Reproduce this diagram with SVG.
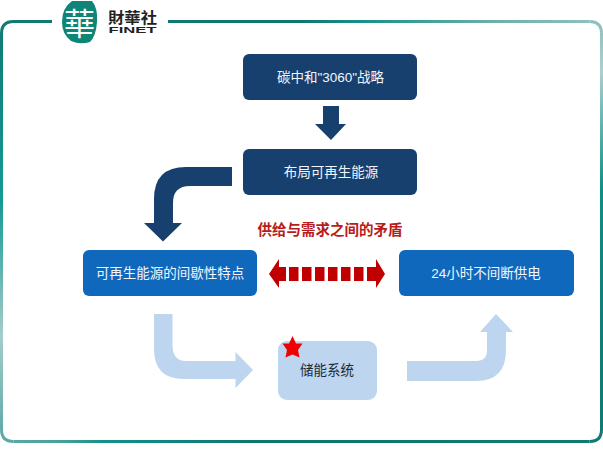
<svg xmlns="http://www.w3.org/2000/svg" width="603" height="463" viewBox="0 0 603 463">
<defs>
<linearGradient id="gt" gradientUnits="userSpaceOnUse" x1="52" y1="0" x2="590" y2="0"><stop offset="0" stop-color="#0f7a74"/><stop offset=".46" stop-color="#0f7672"/><stop offset=".58" stop-color="#1a908a"/><stop offset=".83" stop-color="#6fb0ac"/><stop offset="1" stop-color="#8cc0bd"/></linearGradient>
<linearGradient id="gr" gradientUnits="userSpaceOnUse" x1="0" y1="21" x2="0" y2="441"><stop offset="0" stop-color="#8cc0bd"/><stop offset=".12" stop-color="#a9d0cf"/><stop offset=".4" stop-color="#0e8f88"/><stop offset=".66" stop-color="#117f7c"/><stop offset="1" stop-color="#0f7a74"/></linearGradient>
<linearGradient id="gb" gradientUnits="userSpaceOnUse" x1="0" y1="0" x2="603" y2="0"><stop offset=".02" stop-color="#5aa8a6"/><stop offset=".1" stop-color="#4aa09c"/><stop offset=".17" stop-color="#14908a"/><stop offset=".42" stop-color="#0f7672"/><stop offset="1" stop-color="#0f7a74"/></linearGradient>
<linearGradient id="gl" gradientUnits="userSpaceOnUse" x1="0" y1="21" x2="0" y2="441"><stop offset="0" stop-color="#0f7a74"/><stop offset=".43" stop-color="#159a92"/><stop offset=".75" stop-color="#a5cccc"/><stop offset="1" stop-color="#5aa8a6"/></linearGradient>
</defs>
<style>
.cn{font-family:"Liberation Sans","Noto Sans CJK SC",sans-serif;text-anchor:middle}
.w{fill:#f2f6fa;font-size:13.500px}
.dark{fill:#17406f}.blue{fill:#1068bd}.light{fill:#bdd5ef}
.fr{fill:none;stroke-width:3}
</style>
<rect width="603" height="463" fill="#fff"/>
<g id="frame">
<path class="fr" stroke="url(#gt)" d="M168 21.500H589.500"/>
<path class="fr" stroke="url(#gr)" d="M589.500 21.500Q601.500 21.500 601.500 33.500V429.500Q601.500 441.500 589.500 441.500"/>
<path class="fr" stroke="url(#gb)" d="M589.500 441.500H13.500"/>
<path class="fr" stroke="url(#gl)" d="M13.500 441.500Q1.500 441.500 1.500 429.500V33.500Q1.500 21.500 13.500 21.500H52"/>
</g>
<g id="logo">
<path d="M72 1H92Q98 8 97 22Q96 36 90 42Q80 45 71 41Q62 34 62 22Q62 8 72 1Z" fill="#0e8577"/>
<text x="79.500" y="35" font-size="31" fill="#fff" text-anchor="middle" font-family="'Noto Sans CJK TC',sans-serif">華</text>
<text x="132.500" y="23" font-size="15" font-weight="bold" fill="#222" text-anchor="middle" textLength="49" lengthAdjust="spacingAndGlyphs" font-family="'Noto Sans CJK TC',sans-serif">財華社</text>
<text x="132.500" y="33" font-size="9.500" font-weight="bold" fill="#222" text-anchor="middle" textLength="48" lengthAdjust="spacingAndGlyphs" font-family="'Liberation Sans',sans-serif">FINET</text>
</g>
<g id="connectors">
<path class="dark" d="M323 106H339V124H346L331 140L315 124H323Z"/>
<path class="dark" d="M232 167H186Q154 167 154 199V223H144L163 241.500L182 223H173V203Q173 186 190 186H232Z"/>
<path fill="#c00000" d="M269 274L279 259V267H286V281H279V288ZM289 267H298.500V281H289ZM302 267H311.500V281H302ZM315 267H324.500V281H315ZM328 267H337.500V281H328ZM341 267H350.500V281H341ZM354 267H363.500V281H354ZM367 267H376V259L385 274L376 288V281H367Z"/>
<path class="light" d="M154 314H172.500V345Q172.500 361 186 361H235.500V352L253 370L235.500 388V379H184Q154 379 154 349Z"/>
<path class="light" d="M407 361H476Q487 361 487 350V332H480L496 314L513 332H506V350Q506 381 476 381H407Z"/>
</g>
<g id="node-carbon"><rect x="243" y="54" width="174" height="46" rx="6" class="dark"/><text x="330.500" y="82" class="cn w">碳中和"3060"战略</text></g>
<g id="node-layout"><rect x="243" y="149" width="174" height="46" rx="6" class="dark"/><text x="331" y="177" class="cn w">布局可再生能源</text></g>
<g id="node-intermittent"><rect x="83" y="250" width="174" height="46" rx="6" class="blue"/><text x="170" y="278" class="cn w">可再生能源的间歇性特点</text></g>
<g id="node-power"><rect x="399" y="250" width="175" height="46" rx="6" class="blue"/><text x="486" y="278" class="cn w">24小时不间断供电</text></g>
<g id="node-storage"><rect x="278" y="341" width="99" height="59" rx="9" class="light"/><text x="327" y="375" class="cn" font-size="13.500" fill="#1c2a3a">储能系统</text>
<path d="M292.500 336L296 343.500H302.500L298 350L299.500 357.500L292.500 354.500L285.500 357.500L287 350L282.500 343.500H289Z" fill="#f00000"/></g>
<text x="330" y="235" class="cn" font-size="14.500" font-weight="bold" fill="#b81c1c">供给与需求之间的矛盾</text>
</svg>
